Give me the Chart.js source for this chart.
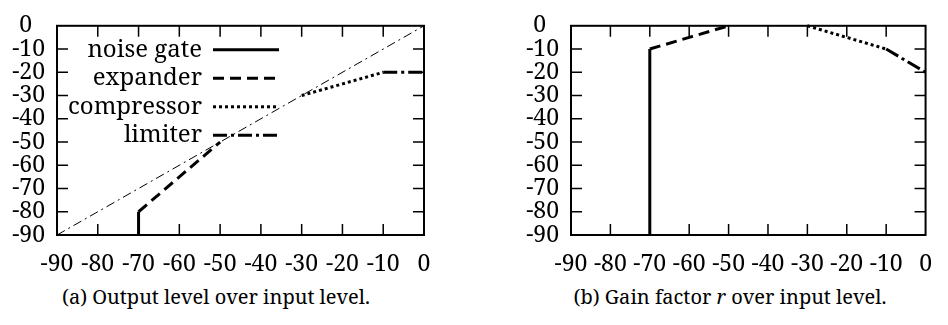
<html>
    <head>
        <title>Dynamic range processing curves</title>
        <script src="https://cdn.jsdelivr.net/npm/chart.js"></script>
        <style>
            body {
                margin: 0;
                background: white;
                font-family: "Noto Serif", "DejaVu Serif", serif;
                color: black;
            }
            #page {
                position: relative;
                width: 948px;
                height: 325px;
            }
            .box {
                position: absolute;
                top: 0;
                width: 474px;
                height: 280px;
            }
            .caption {
                position: absolute;
                top: 283px;
                font-size: 20px;
                white-space: nowrap;
                transform: translateX(-50%);
            }
        </style>
    </head>
    <body>
        <div id="page">
            <div class="box" style="left:0"><canvas id="output-chart" width="474" height="280"></canvas></div>
            <div class="box" style="left:474px"><canvas id="gain-chart" width="474" height="280"></canvas></div>
            <div class="caption" style="left:216px">(a) Output level over input level.</div>
            <div class="caption" style="left:730px">(b) Gain factor <i>r</i> over input level.</div>
        </div>
        <script>
            const tickValues = [-90, -80, -70, -60, -50, -40, -30, -20, -10, 0];
            const seriesNames = ['noise gate', 'expander', 'compressor', 'limiter'];

            // input levels (dB) of each segment
            const gateIn = [-70, -70];
            const expanderIn = [-70, -60, -50];
            const compressorIn = [-30, -20, -10];
            const limiterIn = [-10, 0];
            const identityIn = [-90, 0];

            // (a) output level
            const gateOut = [-90, -80];
            const expanderOut = [-80, -65, -50];
            const compressorOut = [-30, -25, -20];
            const limiterOut = [-20, -20];
            const identityOut = [-90, 0];

            // (b) gain factor r
            const gateGain = [-90, -10];
            const expanderGain = [-10, -5, 0];
            const compressorGain = [0, -5, -10];
            const limiterGain = [-10, -20];

            const dashes = [[], [11, 6], [3, 3], [14, 4, 3, 4]];
            const serif = '"Noto Serif", "DejaVu Serif", serif';

            function pts(xs, ys) {
                return xs.map((x, i) => ({x: x, y: ys[i]}));
            }

            function series(xs, ys, k) {
                return {
                    label: seriesNames[k],
                    data: pts(xs, ys),
                    borderColor: '#000',
                    borderWidth: 3,
                    borderDash: dashes[k],
                    pointRadius: 0,
                    clip: 6,
                };
            }

            const frame = {
                id: 'frame',
                afterDatasetsDraw(chart) {
                    const ctx = chart.ctx;
                    const a = chart.chartArea;
                    const xs = chart.scales.x, ys = chart.scales.y;
                    ctx.save();
                    ctx.strokeStyle = '#000';
                    ctx.lineWidth = 1.5;
                    ctx.setLineDash([]);
                    ctx.beginPath();
                    tickValues.slice(1, -1).forEach(v => {
                        const px = xs.getPixelForValue(v);
                        ctx.moveTo(px, a.bottom); ctx.lineTo(px, a.bottom - 11);
                        ctx.moveTo(px, a.top); ctx.lineTo(px, a.top + 11);
                        const py = ys.getPixelForValue(v);
                        ctx.moveTo(a.left, py); ctx.lineTo(a.left + 11, py);
                        ctx.moveTo(a.right, py); ctx.lineTo(a.right - 11, py);
                    });
                    ctx.stroke();
                    ctx.lineWidth = 2;
                    ctx.strokeRect(a.left, a.top, a.right - a.left, a.bottom - a.top);
                    ctx.restore();
                }
            };

            const keyBox = {
                id: 'keyBox',
                afterDatasetsDraw(chart) {
                    const ctx = chart.ctx;
                    const a = chart.chartArea;
                    ctx.save();
                    ctx.font = '24px ' + serif;
                    ctx.fillStyle = '#000';
                    ctx.strokeStyle = '#000';
                    ctx.lineWidth = 3;
                    ctx.textAlign = 'right';
                    ctx.textBaseline = 'middle';
                    seriesNames.forEach((name, i) => {
                        const y = a.top + 24 + i * 28.5;
                        ctx.fillText(name, a.left + 145, y);
                        ctx.setLineDash(dashes[i]);
                        ctx.beginPath();
                        ctx.moveTo(a.left + 156, y);
                        ctx.lineTo(a.left + 222, y);
                        ctx.stroke();
                    });
                    ctx.restore();
                }
            };

            function makeConfig(datasets, yWidth, padRight) {
                return {
                    type: 'line',
                    data: {datasets: datasets},
                    plugins: [frame],
                    options: {
                        responsive: false,
                        animation: false,
                        layout: {padding: {top: 19, right: padRight, left: 0, bottom: 0}},
                        plugins: {legend: {display: false}, tooltip: {enabled: false}},
                        scales: {
                            x: {
                                type: 'linear',
                                min: -90,
                                max: 0,
                                afterBuildTicks: s => { s.ticks = tickValues.map(v => ({value: v})); },
                                afterFit: s => { s.height = 45; },
                                grid: {display: false, drawTicks: false},
                                border: {display: false},
                                ticks: {
                                    color: '#000',
                                    padding: 16,
                                    maxRotation: 0,
                                    autoSkip: false,
                                    font: {family: serif, size: 23},
                                },
                            },
                            y: {
                                type: 'linear',
                                min: -90,
                                max: 0,
                                afterBuildTicks: s => { s.ticks = tickValues.map(v => ({value: v})); },
                                afterFit: s => { s.width = yWidth; },
                                grid: {display: false, drawTicks: false},
                                border: {display: false},
                                ticks: {
                                    color: '#000',
                                    padding: 12,
                                    autoSkip: false,
                                    font: {family: serif, size: 23},
                                    callback: v => v === 0 ? '0\u2007' : String(v),
                                },
                            },
                        },
                    },
                };
            }

            const outputSets = [
                {
                    label: 'identity',
                    data: pts(identityIn, identityOut),
                    borderColor: '#000',
                    borderWidth: 1,
                    borderDash: [9, 4, 2, 4],
                    pointRadius: 0,
                },
                series(gateIn, gateOut, 0),
                series(expanderIn, expanderOut, 1),
                series(compressorIn, compressorOut, 2),
                series(limiterIn, limiterOut, 3),
            ];
            const outputConfig = makeConfig(outputSets, 57, 50);
            outputConfig.plugins.push(keyBox);
            new Chart(document.getElementById('output-chart'), outputConfig);

            const gainSets = [
                series(gateIn, gateGain, 0),
                series(expanderIn, expanderGain, 1),
                series(compressorIn, compressorGain, 2),
                series(limiterIn, limiterGain, 3),
            ];
            new Chart(document.getElementById('gain-chart'), makeConfig(gainSets, 97, 10));
        </script>
    </body>
</html>
